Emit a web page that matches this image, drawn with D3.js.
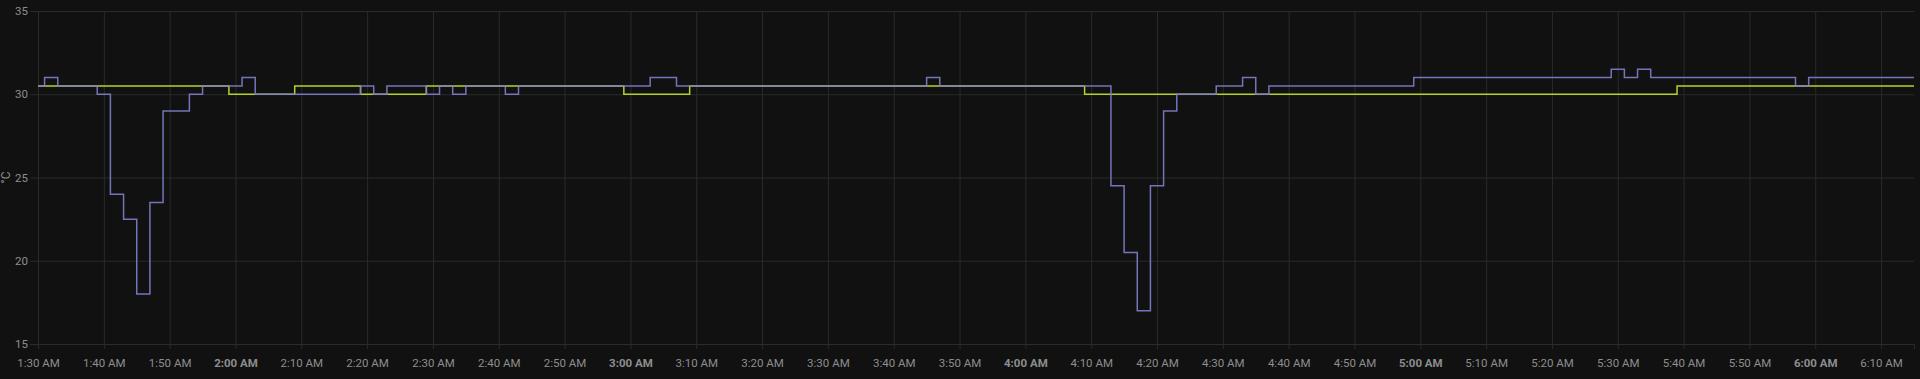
<!DOCTYPE html>
<html lang="en">
<head>
<meta charset="UTF-8">
<script src="https://cdnjs.cloudflare.com/ajax/libs/d3/7.8.5/d3.min.js"></script>
<title>Temperature</title>
<style>
  html, body { margin: 0; padding: 0; background: #111111; overflow: hidden; }
  svg text { font-family: Roboto, "Liberation Sans", Arial, sans-serif; }
</style>
</head>
<body>
<div id="chart"></div>
<script>
// step series, each entry is a change point (time, value)
const purpleTimes = ["1:30","1:31","1:33","1:39","1:41","1:43","1:45","1:47","1:49","1:53","1:55",
  "2:01","2:03","2:19","2:21","2:23","2:29","2:31","2:33","2:35","2:41","2:43","3:03","3:07",
  "3:45","3:47","4:13","4:15","4:17","4:19","4:21","4:23","4:29","4:33","4:35","4:37","4:59",
  "5:29","5:31","5:33","5:35","5:57","5:59","6:15"];
const purpleValues = [30.5,31,30.5,30,24,22.5,18,23.5,29,30,30.5,
  31,30,30.5,30,30.5,30,30.5,30,30.5,30,30.5,31,30.5,
  31,30.5,24.5,20.5,17,24.5,29,30,30.5,31,30,30.5,31,
  31.5,31,31.5,31,30.5,31,31];

const greenTimes = ["1:30","1:59","2:09","2:19","2:29","2:59","3:09","4:09","5:39","6:15"];
const greenValues = [30.5,30,30.5,30,30.5,30,30.5,30,30.5,30.5];

const yTicks = [15, 20, 25, 30, 35];
const unitLabel = "°C";

const width = 1920, height = 379;
const margin = {top: 11, right: 6, bottom: 35, left: 38};

const parse = d3.timeParse("%H:%M");
const toPoints = (times, values) => times.map((t, i) => ({t: parse(t), v: values[i]}));

const svg = d3.select("#chart").append("svg")
  .attr("width", width)
  .attr("height", height);

const x = d3.scaleTime()
  .domain([parse("1:30"), parse("6:15")])
  .range([margin.left, width - margin.right]);

const y = d3.scaleLinear()
  .domain([15, 35])
  .range([height - margin.bottom, margin.top]);

const gridColor = "#2a2a2a";
const textColor = "#8e8e8e";

// x axis + vertical grid
const xTicks = d3.timeMinute.every(10).range(parse("1:30"), parse("6:15"));
const xAxis = svg.append("g")
  .attr("transform", `translate(0,${height - margin.bottom})`)
  .call(d3.axisBottom(x)
    .tickValues(xTicks)
    .tickSize(5)
    .tickFormat(d3.timeFormat("%-I:%M %p")));
xAxis.select(".domain").attr("stroke", gridColor);
xAxis.selectAll(".tick line").attr("stroke", gridColor);
xAxis.selectAll(".tick text")
  .attr("fill", textColor)
  .attr("font-size", 11.5)
  .attr("y", 12)
  .attr("dy", "0.95em")
  .attr("font-weight", d => d.getMinutes() === 0 ? "bold" : "normal");
xAxis.selectAll(".tick").append("line")
  .attr("y1", 0)
  .attr("y2", -(height - margin.bottom - margin.top))
  .attr("stroke", gridColor);

// y axis + horizontal grid
const yAxis = svg.append("g")
  .attr("transform", `translate(${margin.left},0)`)
  .call(d3.axisLeft(y).tickValues(yTicks).tickSize(8).tickPadding(2));
yAxis.select(".domain").attr("stroke", gridColor);
yAxis.selectAll(".tick line").attr("stroke", gridColor);
yAxis.selectAll(".tick text").attr("fill", textColor).attr("font-size", 11.5);
yAxis.selectAll(".tick").append("line")
  .attr("x1", 0)
  .attr("x2", width - margin.right - margin.left)
  .attr("stroke", gridColor);

svg.append("text")
  .attr("transform", `translate(6,${(margin.top + height - margin.bottom) / 2}) rotate(-90)`)
  .attr("text-anchor", "middle")
  .attr("dy", "0.35em")
  .attr("fill", textColor)
  .attr("font-size", 12)
  .text(unitLabel);

// lines
const line = d3.line()
  .x(d => x(d.t))
  .y(d => y(d.v))
  .curve(d3.curveStepAfter);

svg.append("path")
  .datum(toPoints(greenTimes, greenValues))
  .attr("fill", "none")
  .attr("stroke", "#b5d22b")
  .attr("stroke-width", 1.5)
  .attr("d", line);

svg.append("path")
  .datum(toPoints(purpleTimes, purpleValues))
  .attr("fill", "none")
  .attr("stroke", "#7e80cc")
  .attr("stroke-opacity", 0.9)
  .attr("stroke-width", 1.5)
  .attr("d", line);
</script>
</body>
</html>
